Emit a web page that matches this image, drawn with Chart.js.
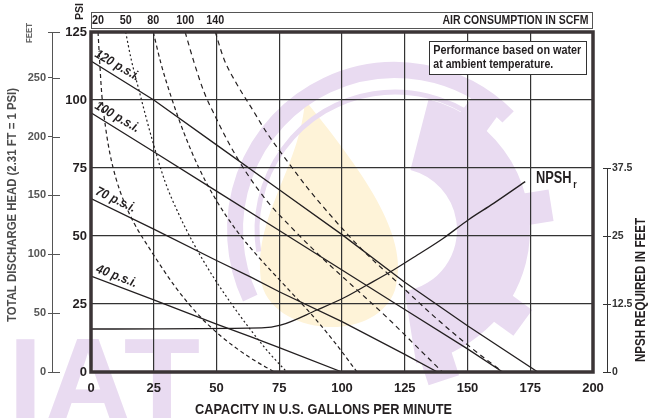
<!DOCTYPE html>
<html lang="en">
<head>
<meta charset="UTF-8">
<title>Pump Performance Curve</title>
<script src="https://cdn.jsdelivr.net/npm/chart.js"></script>
<style>
  html, body { margin: 0; padding: 0; background: #fff; }
  #wrap { width: 654px; height: 418px; }
</style>
</head>
<body>
<div id="wrap"><canvas id="pumpChart" width="654" height="418"></canvas></div>
<script>
// tick values
const gpmTicks = [0, 25, 50, 75, 100, 125, 150, 175, 200];
const psiTicks = [0, 25, 50, 75, 100, 125];
const feetTicks = [0, 50, 100, 150, 200, 250];
const npshTicks = [0, 12.5, 25, 37.5];

// discharge pressure curves (capacity gpm / head psi)
const gpm120 = [0, 25, 50, 75, 100, 125, 150, 178];
const psi120 = [114.3, 100, 83.5, 67, 50.5, 33, 17, 0];
const gpm100 = [0, 25, 50, 75, 100, 125, 150, 164];
const psi100 = [95.3, 81, 66.5, 52, 37.5, 23, 8.5, 0];
const gpm70 = [0, 25, 50, 63.5, 75, 100, 125, 138];
const psi70 = [63.8, 52.5, 41, 35, 29.5, 18.5, 6.5, 0];
const gpm40 = [0, 25, 50, 63.5, 75, 100];
const psi40 = [35.3, 26.5, 17.6, 13, 9, 0];
const psiLabels = ['120 p.s.i.', '100 p.s.i.', '70 p.s.i.', '40 p.s.i.'];

// air consumption curves (scfm)
const airLabels = ['20', '50', '80', '100', '140'];
const gpmAir20 = [2.8, 3.4, 4.3, 5.8, 7.6, 10, 13, 17, 23.6, 33.5, 42.8, 52, 63, 73];
const psiAir20 = [125, 115, 102, 90, 80, 71, 63, 55, 45, 31.4, 21, 13, 5.5, 0];
const gpmAir50 = [13.8, 16, 19, 24.2, 29.5, 35, 41, 48, 56, 64, 71, 78];
const psiAir50 = [125, 115, 104, 86, 70, 58, 47, 36, 25, 15, 7, 0];
const gpmAir80 = [24.8, 28, 32, 37, 43, 50, 58, 67, 77, 88, 97, 106];
const psiAir80 = [125, 113, 101, 88, 75, 63, 52, 42, 32, 21, 11, 0];
const gpmAir100 = [37.5, 41, 45, 49.5, 55, 61.4, 70, 80, 92, 105, 118, 129, 140];
const psiAir100 = [125, 114, 103, 94, 84, 74, 63, 53, 42, 31, 20, 10, 0];
const gpmAir140 = [49.5, 53, 58, 64, 70, 77, 86, 96, 108, 122, 136, 150, 164];
const psiAir140 = [125, 115, 106, 97, 88, 79, 68, 57, 45, 33, 21, 10, 0];

// NPSH required (gpm / feet)
const gpmNpsh = [0, 68, 75.5, 90, 100.6, 110, 120.5, 130, 140.4, 150.4, 160.4, 173];
const ftNpsh = [7.9, 8.1, 8.6, 11.4, 13.6, 16, 18.75, 21.5, 24.6, 28, 31, 35];

const FT_PER_PSI = 2.31;
const sans = "'Liberation Sans', Arial, sans-serif";
const ink = '#231f20';

function pts(xs, ys) {
  return xs.map((x, i) => ({ x: x, y: ys[i] }));
}

function solid(xs, ys) {
  return { data: pts(xs, ys), borderColor: ink, borderWidth: 1.3, pointRadius: 0, showLine: true, fill: false, yAxisID: 'y' };
}

function dashed(xs, ys, dash) {
  return { data: pts(xs, ys), borderColor: ink, borderWidth: 1.2, borderDash: dash, pointRadius: 0, showLine: true, fill: false, cubicInterpolationMode: 'monotone', yAxisID: 'y' };
}

const pressureSets = [solid(gpm120, psi120), solid(gpm100, psi100), solid(gpm70, psi70), solid(gpm40, psi40)];

const airSets = [
  dashed(gpmAir20, psiAir20, [4, 3]),
  dashed(gpmAir50, psiAir50, [2, 2.5]),
  dashed(gpmAir80, psiAir80, [4, 3]),
  dashed(gpmAir100, psiAir100, [5, 4]),
  dashed(gpmAir140, psiAir140, [5, 4])
];

const npshSet = { data: pts(gpmNpsh, ftNpsh), borderColor: ink, borderWidth: 1.3, pointRadius: 0, showLine: true, fill: false, cubicInterpolationMode: 'monotone', yAxisID: 'yNpsh' };

// draws condensed text: bold sans squeezed to a given width around (cx, cy)
function squeezed(ctx, text, cx, cy, width, size, angle) {
  ctx.save();
  ctx.font = 'bold ' + size + 'px ' + sans;
  const w = ctx.measureText(text).width;
  ctx.translate(cx, cy);
  if (angle) ctx.rotate(angle);
  ctx.scale(width / w, 1);
  ctx.textAlign = 'center';
  ctx.textBaseline = 'middle';
  ctx.fillText(text, 0, 0);
  ctx.restore();
}

// faint gear-and-flame logo behind the plot
const backdrop = {
  id: 'backdrop',
  beforeDraw(chart) {
    const { ctx } = chart;
    const cx = 395, cy = 230;
    const lilac = '#e9dbf1';
    ctx.save();

    // flame
    ctx.fillStyle = '#fef3d8';
    ctx.beginPath();
    ctx.moveTo(305, 100);
    ctx.bezierCurveTo(300, 170, 250, 220, 262, 285);
    ctx.bezierCurveTo(275, 335, 375, 345, 395, 290);
    ctx.bezierCurveTo(410, 240, 370, 180, 305, 100);
    ctx.fill();

    // outer ring
    ctx.strokeStyle = lilac;
    ctx.lineWidth = 16;
    ctx.beginPath();
    ctx.arc(cx, cy, 160, Math.PI * 0.86, Math.PI * 1.75);
    ctx.stroke();
    ctx.lineWidth = 5;
    ctx.beginPath();
    ctx.arc(cx, cy, 138, Math.PI * 0.95, Math.PI * 1.7);
    ctx.stroke();

    // gear body with teeth on the right
    ctx.fillStyle = lilac;
    ctx.beginPath();
    ctx.arc(cx, cy, 135, -Math.PI * 0.42, Math.PI * 0.45);
    ctx.arc(cx, cy, 62, Math.PI * 0.45, -Math.PI * 0.42, true);
    ctx.closePath();
    ctx.fill();
    [-0.3, -0.05, 0.2, 0.4].forEach(t => {
      ctx.save();
      ctx.translate(cx, cy);
      ctx.rotate(Math.PI * t);
      ctx.fillRect(128, -16, 30, 32);
      ctx.restore();
    });

    // lettering
    ctx.font = 'bold 125px ' + sans;
    ctx.textBaseline = 'alphabetic';
    ctx.fillText('IAT', 8, 425);
    ctx.restore();
  }
};

// frame, top air bar, notes and axis titles
const chartDecor = {
  id: 'chartDecor',
  afterDraw(chart) {
    const { ctx, chartArea: a, scales } = chart;
    const xs = scales.x, ys = scales.y;
    ctx.save();

    // heavy frame
    ctx.strokeStyle = '#3b3436';
    ctx.lineWidth = 3.5;
    ctx.strokeRect(a.left, a.top, a.right - a.left, a.bottom - a.top);

    // air consumption bar on top
    ctx.lineWidth = 1;
    ctx.strokeStyle = '#555';
    ctx.strokeRect(a.left + 0.5, 12.5, a.right - a.left - 1, 16);
    ctx.fillStyle = ink;
    airSets.forEach((s, i) => {
      const t = airLabels[i];
      squeezed(ctx, t, xs.getPixelForValue(s.data[0].x), 20.5, t.length * 6, 12.5);
    });
    squeezed(ctx, 'AIR CONSUMPTION IN SCFM', 515.5, 20.5, 146, 12.5);

    // note box
    ctx.fillStyle = '#fff';
    ctx.fillRect(429, 41, 157, 33);
    ctx.strokeStyle = '#333';
    ctx.strokeRect(429.5, 41.5, 157, 33);
    ctx.fillStyle = ink;
    squeezed(ctx, 'Performance based on water', 507.3, 51, 148, 12.5);
    squeezed(ctx, 'at ambient temperature.', 493.3, 65, 120, 12.5);

    // pressure labels along the lines
    const tilt = [0.52, 0.52, 0.44, 0.37];
    ctx.font = 'italic bold 13px ' + sans;
    ctx.textAlign = 'left';
    ctx.textBaseline = 'top';
    pressureSets.forEach((s, i) => {
      ctx.save();
      ctx.translate(99, ys.getPixelForValue(s.data[0].y) - 13.5);
      ctx.rotate(tilt[i]);
      ctx.scale(0.9, 1);
      ctx.fillText(psiLabels[i], 0, 0);
      ctx.restore();
    });

    // NPSHr tag
    ctx.textBaseline = 'alphabetic';
    ctx.save();
    ctx.translate(536, 183);
    ctx.scale(0.8, 1);
    ctx.font = 'bold 16px ' + sans;
    ctx.fillText('NPSH', 0, 0);
    const w = ctx.measureText('NPSH').width;
    ctx.font = 'bold 11px ' + sans;
    ctx.fillText('r', w + 2, 5);
    ctx.restore();

    // NPSH axis line and ticks
    const yn = scales.yNpsh;
    ctx.strokeStyle = '#333';
    ctx.lineWidth = 1;
    ctx.beginPath();
    ctx.moveTo(607.5, yn.getPixelForValue(37.5));
    ctx.lineTo(607.5, yn.getPixelForValue(0));
    npshTicks.forEach(v => {
      const py = Math.round(yn.getPixelForValue(v)) + 0.5;
      ctx.moveTo(603, py);
      ctx.lineTo(611, py);
    });
    ctx.stroke();

    // feet axis ticks cross the axis line
    const yf = scales.yFt;
    ctx.strokeStyle = '#555';
    ctx.beginPath();
    yf.ticks.forEach(t => {
      const py = Math.round(yf.getPixelForValue(t.value)) + 0.5;
      ctx.moveTo(52, py);
      ctx.lineTo(60, py);
    });
    ctx.stroke();

    // axis titles
    ctx.fillStyle = ink;
    squeezed(ctx, 'CAPACITY IN U.S. GALLONS PER MINUTE', 323.5, 410, 257, 14);
    squeezed(ctx, 'NPSH REQUIRED IN FEET', 641, 290, 144, 14, -Math.PI / 2);
    squeezed(ctx, 'PSI', 80, 11.5, 17, 11, -Math.PI / 2);
    ctx.fillStyle = '#4b4b4b';
    squeezed(ctx, 'TOTAL DISCHARGE HEAD (2.31 FT = 1 PSI)', 12.5, 205, 234, 12.5, -Math.PI / 2);
    ctx.fillStyle = '#666';
    squeezed(ctx, 'FEET', 30, 33, 20, 9, -Math.PI / 2);

    ctx.restore();
  }
};

new Chart(document.getElementById('pumpChart'), {
  type: 'scatter',
  data: {
    datasets: [...pressureSets, ...airSets, npshSet]
  },
  options: {
    responsive: false,
    animation: false,
    layout: { padding: { top: 32, left: 0, right: 0, bottom: 0 } },
    plugins: { legend: { display: false }, tooltip: { enabled: false } },
    scales: {
      x: {
        type: 'linear', min: 0, max: 200,
        afterBuildTicks: s => { s.ticks = gpmTicks.map(v => ({ value: v })); },
        afterFit: s => { s.height = 46; },
        grid: { color: '#333', lineWidth: 1.2, drawTicks: false },
        border: { display: false },
        ticks: { color: ink, padding: 9, font: { family: sans, size: 13, weight: 'bold' } }
      },
      y: {
        type: 'linear', position: 'left', min: 0, max: 125, weight: 1,
        afterBuildTicks: s => { s.ticks = psiTicks.map(v => ({ value: v })); },
        afterFit: s => { s.width = 39; },
        grid: { color: '#333', lineWidth: 1.2, drawTicks: false },
        border: { display: false },
        ticks: { color: ink, padding: 4, font: { family: sans, size: 13, weight: 'bold' } }
      },
      yFt: {
        type: 'linear', position: 'left', min: 0, max: 125 * FT_PER_PSI, weight: 2,
        afterBuildTicks: s => { s.ticks = feetTicks.concat([125 * FT_PER_PSI]).map(v => ({ value: v })); },
        afterFit: s => { s.width = 52; },
        grid: { drawOnChartArea: false, color: '#555', tickLength: 4 },
        border: { display: true, color: '#555' },
        ticks: { color: '#555', padding: 2, font: { family: sans, size: 11, weight: 'bold' },
          callback: v => (v % 50 === 0 ? v : '') }
      },
      yNpsh: {
        type: 'linear', position: 'right', min: 0, max: 62.5,
        afterBuildTicks: s => { s.ticks = npshTicks.map(v => ({ value: v })); },
        afterFit: s => { s.width = 61; },
        grid: { display: false, drawTicks: false },
        border: { display: false },
        ticks: { color: '#333', padding: 19, font: { family: sans, size: 10.5, weight: 'bold' } }
      }
    }
  },
  plugins: [backdrop, chartDecor]
});
</script>
</body>
</html>
